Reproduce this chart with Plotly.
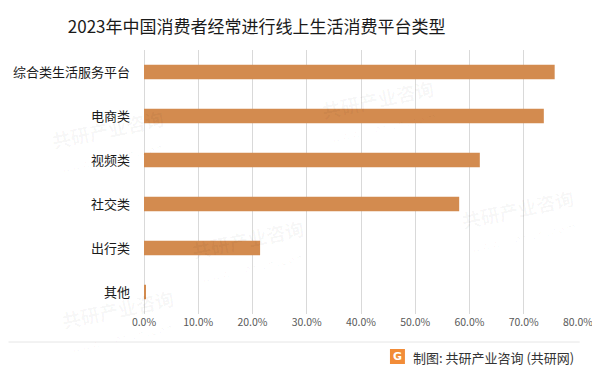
import plotly.graph_objects as go

categories = ["综合类生活服务平台", "电商类", "视频类", "社交类", "出行类", "其他"]
values = [0.757, 0.737, 0.619, 0.581, 0.214, 0.002]
tick_vals = [0, 0.1, 0.2, 0.3, 0.4, 0.5, 0.6, 0.7, 0.8]
tick_text = ["0.0%", "10.0%", "20.0%", "30.0%", "40.0%", "50.0%", "60.0%", "70.0%", "80.0%"]
title_text = "2023年中国消费者经常进行线上生活消费平台类型"
source_text = "制图: 共研产业咨询 (共研网)"

FONT = "Noto Sans CJK SC"
# the page body has an 8px default margin, so the figure is sized/placed to compensate
OFF = 8
W, H = 600 - OFF, 372 - OFF
pl, pr, pt, pb = 143.7 - OFF, 600 - 578.3, 50 - OFF, 372 - 314
pw, ph = W - pl - pr, H - pt - pb


def px2x(px):
    # px: window pixel x
    return (px - OFF - pl) / pw


def py2y(py):
    # py: window pixel y
    return (H - pb - (py - OFF)) / ph


fig = go.Figure()
fig.add_trace(go.Bar(
    x=values, y=categories, orientation="h",
    marker=dict(color="#D38B4F", line=dict(width=0)),
    hoverinfo="x+y",
))

# faint watermarks, kept inside the canvas
wm_positions = [(110, 140), (380, 110), (250, 250), (520, 220), (120, 320)]
ann = []
for (px, py) in wm_positions:
    ann.append(dict(
        text="<b>共研产业咨询</b><br><span style='font-size:10px'>w w w . g o n y n . c o m</span>",
        x=px2x(px), y=py2y(py), xref="paper", yref="paper",
        showarrow=False, textangle=-12,
        font=dict(family=FONT, size=19, color="rgba(0,0,0,0.035)"),
        xanchor="center", yanchor="middle",
    ))

# footer
ann.append(dict(
    text=source_text, x=px2x(411), y=py2y(357),
    xref="paper", yref="paper", showarrow=False,
    xanchor="left", yanchor="middle",
    font=dict(family=FONT, size=13, color="#333333"),
))
ann.append(dict(
    text="<b>G</b>", x=px2x(397.5), y=py2y(356.5),
    xref="paper", yref="paper", showarrow=False,
    xanchor="center", yanchor="middle",
    font=dict(family="DejaVu Sans", size=11, color="white"),
))

fig.update_layout(
    width=W, height=H,
    margin=dict(l=pl, r=pr, t=pt, b=pb, autoexpand=False),
    paper_bgcolor="white", plot_bgcolor="white",
    showlegend=False,
    bargap=0.67,
    font=dict(family=FONT, color="#404040"),
    title=dict(
        text=title_text, x=(256.7 - OFF) / W, xref="container", xanchor="center",
        y=1 - (27 - OFF) / H, yref="container", yanchor="middle",
        font=dict(family=FONT, size=17, color="#1a1a1a"),
    ),
    xaxis=dict(
        range=[0, 0.8], tickvals=tick_vals, ticktext=tick_text,
        showgrid=True, gridcolor="#D9D9D9", gridwidth=1,
        zeroline=True, zerolinecolor="#D9D9D9", zerolinewidth=1,
        showline=False, ticks="", automargin=False,
        tickfont=dict(family=FONT, size=10.5, color="#595959"),
        fixedrange=True,
    ),
    yaxis=dict(
        categoryorder="array", categoryarray=categories, autorange="reversed",
        showgrid=False, showline=False, ticks="", automargin=False,
        tickfont=dict(family=FONT, size=13, color="#1a1a1a"),
        ticklabelstandoff=13,
        fixedrange=True,
    ),
    annotations=ann,
)

fig.add_shape(type="rect", xref="paper", yref="paper",
              x0=px2x(390), x1=px2x(405), y0=py2y(364), y1=py2y(349),
              fillcolor="#F28C38", line=dict(width=0), layer="below")
fig.add_shape(type="line", xref="paper", yref="paper",
              x0=px2x(OFF), x1=px2x(580), y0=py2y(342), y1=py2y(342),
              line=dict(color="#E6E6E6", width=1))

fig.write_html("out.html")
